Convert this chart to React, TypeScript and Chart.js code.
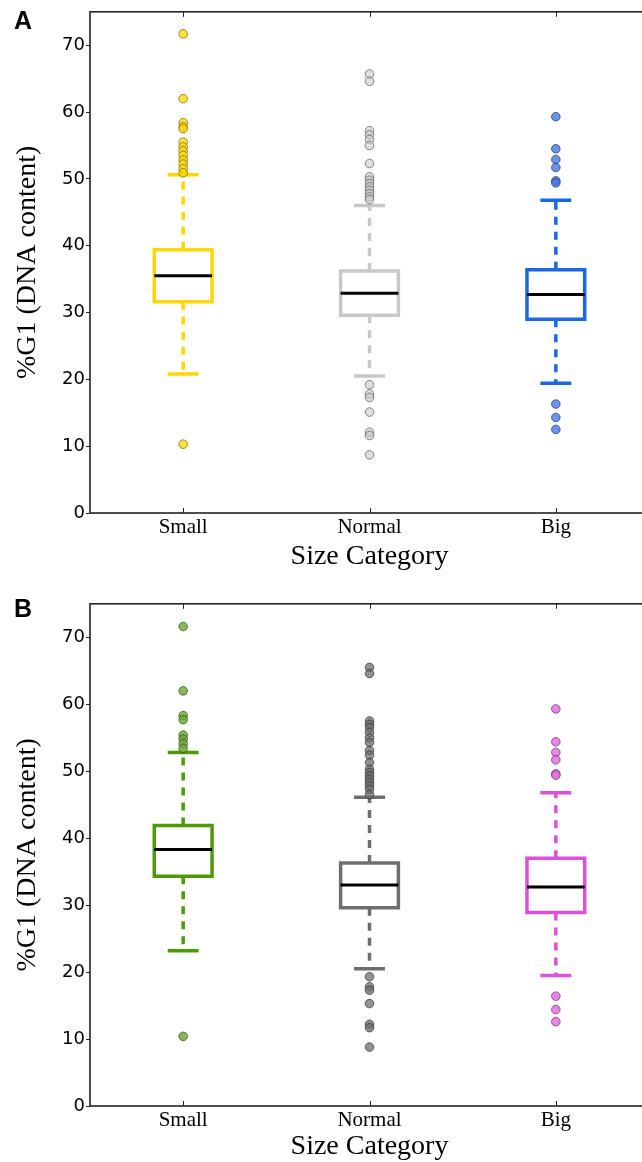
import React, { useEffect, useRef } from "react";
import { Chart, registerables } from "chart.js";
Chart.register(...registerables);

const categories = ["Small", "Normal", "Big"];
const yTickValues = [0, 10, 20, 30, 40, 50, 60, 70];
const xAxisTitle = "Size Category";
const yAxisTitle = "%G1 (DNA content)";

// Panel A statistics
const aMedian = [35.5, 32.9, 32.7];
const aQ1 = [31.6, 29.6, 29.0];
const aQ3 = [39.4, 36.2, 36.4];
const aWhiskerLow = [20.8, 20.5, 19.4];
const aWhiskerHigh = [50.6, 46.0, 46.8];
const aOutSmall = [71.7, 62.0, 58.4, 57.8, 57.5, 55.5, 54.8, 54.2, 53.5, 52.8, 52.2, 51.5, 50.9, 10.3];
const aOutNormal = [65.7, 64.6, 57.2, 56.6, 55.9, 55.0, 52.3, 50.3, 49.8, 49.3, 48.8, 48.3, 47.8, 47.3, 46.9, 19.2, 17.8, 17.3, 15.1, 12.1, 11.6, 8.7];
const aOutBig = [59.3, 54.5, 52.9, 51.7, 49.7, 49.4, 16.3, 14.3, 12.5];

// Panel B statistics
const bMedian = [38.3, 33.0, 32.7];
const bQ1 = [34.3, 29.6, 28.9];
const bQ3 = [41.9, 36.3, 37.0];
const bWhiskerLow = [23.2, 20.5, 19.5];
const bWhiskerHigh = [52.8, 46.1, 46.8];
const bOutSmall = [71.6, 62.0, 58.3, 57.7, 55.4, 54.8, 54.1, 53.4, 10.4];
const bOutNormal = [65.5, 64.6, 57.5, 57.0, 56.5, 55.8, 55.0, 54.3, 53.1, 52.4, 51.3, 50.3, 49.8, 49.3, 48.8, 48.3, 47.8, 47.3, 46.5, 19.3, 17.8, 17.3, 15.3, 12.2, 11.7, 8.8];
const bOutBig = [59.3, 54.4, 52.8, 51.7, 49.6, 49.4, 16.4, 14.4, 12.6];

// Colours
const aLineColors = ["#FFD700", "#C8C8C8", "#1A66E6"];
const aFlierFill = ["rgba(255,215,0,0.75)", "rgba(200,200,200,0.6)", "rgba(70,120,225,0.8)"];
const aFlierEdge = ["rgba(120,100,0,0.7)", "rgba(90,90,90,0.7)", "rgba(30,50,110,0.7)"];
const bLineColors = ["#4E9A06", "#6E6E6E", "#DC50DC"];
const bFlierFill = ["rgba(110,165,50,0.8)", "rgba(110,110,110,0.75)", "rgba(225,115,225,0.85)"];
const bFlierEdge = ["rgba(40,80,10,0.7)", "rgba(50,50,50,0.7)", "rgba(110,40,110,0.7)"];

const BOX_HALF = 0.155;
const CAP_HALF = 0.083;

function buildDatasets(med, q1, q3, lo, hi, outs, lineColors, fills, edges) {
  const ds: any[] = [];
  for (let i = 0; i < categories.length; i++) {
    const x = i + 1;
    const c = lineColors[i];
    const line = (pts, extra = {}) => ({
      type: "line",
      data: pts,
      borderColor: c,
      borderWidth: 3.5,
      pointRadius: 0,
      fill: false,
      tension: 0,
      showLine: true,
      borderCapStyle: "butt",
      borderJoinStyle: "miter",
      order: 2,
      ...extra,
    });
    ds.push(line([{ x, y: q3[i] }, { x, y: hi[i] }], { borderDash: [8, 7] }));
    ds.push(line([{ x, y: q1[i] }, { x, y: lo[i] }], { borderDash: [8, 7] }));
    ds.push(line([{ x: x - CAP_HALF, y: hi[i] }, { x: x + CAP_HALF, y: hi[i] }]));
    ds.push(line([{ x: x - CAP_HALF, y: lo[i] }, { x: x + CAP_HALF, y: lo[i] }]));
    ds.push(
      line([
        { x, y: q1[i] },
        { x: x + BOX_HALF, y: q1[i] },
        { x: x + BOX_HALF, y: q3[i] },
        { x: x - BOX_HALF, y: q3[i] },
        { x: x - BOX_HALF, y: q1[i] },
        { x, y: q1[i] },
      ])
    );
    ds.push(
      line([{ x: x - BOX_HALF, y: med[i] }, { x: x + BOX_HALF, y: med[i] }], {
        borderColor: "#000",
        borderWidth: 3,
        order: 1,
      })
    );
    ds.push({
      type: "scatter",
      data: outs[i].map((v) => ({ x, y: v })),
      pointRadius: 4.3,
      pointBackgroundColor: fills[i],
      pointBorderColor: edges[i],
      pointBorderWidth: 1,
      showLine: false,
      order: 0,
    });
  }
  return ds;
}

const framePlugin = {
  id: "frame",
  afterDraw(chart) {
    const { ctx, chartArea, scales } = chart;
    const { left, top, right, bottom } = chartArea;
    ctx.save();
    ctx.strokeStyle = "#222";
    ctx.lineWidth = 1.6;
    ctx.strokeRect(left, top, right - left, bottom - top);
    ctx.lineWidth = 1;
    scales.x.ticks.forEach((t) => {
      const px = Math.round(scales.x.getPixelForValue(t.value)) + 0.5;
      ctx.beginPath();
      ctx.moveTo(px, bottom);
      ctx.lineTo(px, bottom - 5);
      ctx.moveTo(px, top);
      ctx.lineTo(px, top + 5);
      ctx.stroke();
    });
    ctx.restore();
  },
};

function makeConfig(datasets, xAxisHeight, titleBottomPad) {
  return {
    type: "scatter",
    data: { datasets },
    plugins: [framePlugin],
    options: {
      animation: false,
      responsive: false,
      maintainAspectRatio: false,
      events: [],
      layout: { padding: { top: 11, right: 11, left: 0, bottom: 0 } },
      plugins: { legend: { display: false }, tooltip: { enabled: false } },
      scales: {
        x: {
          type: "linear",
          min: 0.5,
          max: 3.5,
          afterBuildTicks: (s) => {
            s.ticks = categories.map((_, i) => ({ value: i + 1 }));
          },
          afterFit: (s) => {
            s.height = xAxisHeight;
          },
          grid: { display: false, drawTicks: false },
          border: { display: false },
          ticks: {
            callback: (v) => categories[Math.round(v) - 1],
            font: { family: "Liberation Serif", size: 21, lineHeight: 1 },
            color: "#000",
            padding: 4,
            autoSkip: false,
            maxRotation: 0,
          },
          title: {
            display: true,
            text: xAxisTitle,
            font: { family: "Liberation Serif", size: 28, lineHeight: 1 },
            color: "#000",
            padding: { top: 0, bottom: titleBottomPad },
          },
        },
        y: {
          type: "linear",
          min: 0,
          max: 75,
          afterBuildTicks: (s) => {
            s.ticks = yTickValues.map((v) => ({ value: v }));
          },
          afterFit: (s) => {
            s.width = 90;
          },
          grid: { display: true, drawOnChartArea: false, drawTicks: true, tickLength: 4, color: "#222", lineWidth: 1 },
          border: { display: false },
          ticks: {
            font: { family: "DejaVu Sans", size: 18 },
            color: "#000",
            padding: 1,
          },
          title: {
            display: true,
            text: yAxisTitle,
            font: { family: "Liberation Serif", size: 28, lineHeight: 1 },
            color: "#000",
            padding: { top: 14, bottom: 0 },
          },
        },
      },
    },
  };
}

export default function App() {
  const refA = useRef<HTMLCanvasElement>(null);
  const refB = useRef<HTMLCanvasElement>(null);

  useEffect(() => {
    const dsA = buildDatasets(aMedian, aQ1, aQ3, aWhiskerLow, aWhiskerHigh, [aOutSmall, aOutNormal, aOutBig], aLineColors, aFlierFill, aFlierEdge);
    const dsB = buildDatasets(bMedian, bQ1, bQ3, bWhiskerLow, bWhiskerHigh, [bOutSmall, bOutNormal, bOutBig], bLineColors, bFlierFill, bFlierEdge);
    const chartA = new Chart(refA.current!, makeConfig(dsA, 79, 21) as any);
    const chartB = new Chart(refB.current!, makeConfig(dsB, 56, 1) as any);
    return () => {
      chartA.destroy();
      chartB.destroy();
    };
  }, []);

  const letterStyle: React.CSSProperties = {
    position: "absolute",
    left: 14,
    font: 'bold 25px "Liberation Sans"',
    lineHeight: "25px",
    color: "#000",
  };

  return (
    <div style={{ position: "absolute", left: 0, top: 0, width: 642, height: 1162, overflow: "hidden", background: "#fff" }}>
      <canvas ref={refA} width={660} height={592} style={{ position: "absolute", left: 0, top: 0, width: 660, height: 592 }} />
      <canvas ref={refB} width={660} height={570} style={{ position: "absolute", left: 0, top: 592, width: 660, height: 570 }} />
      <div style={{ ...letterStyle, top: 8 }}>A</div>
      <div style={{ ...letterStyle, top: 596 }}>B</div>
    </div>
  );
}
